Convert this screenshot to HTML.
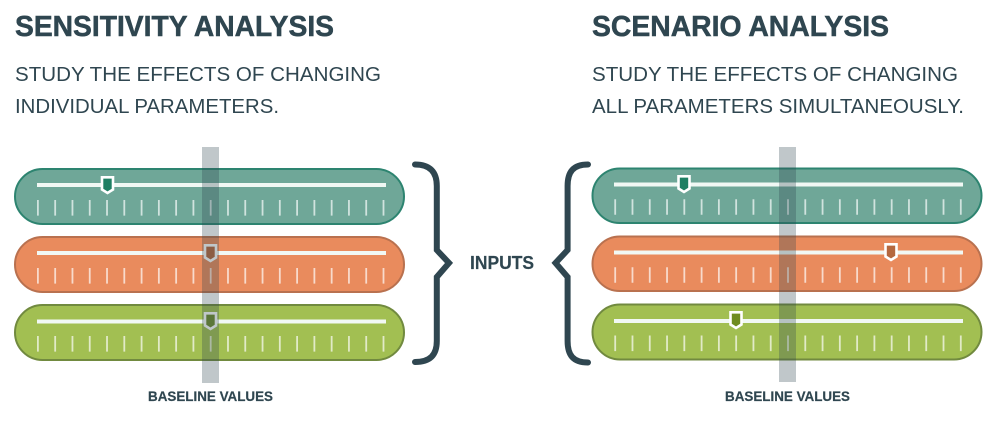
<!DOCTYPE html>
<html><head><meta charset="utf-8"><style>html,body{margin:0;padding:0;background:#fff}svg{display:block}
text{font-family:"Liberation Sans",sans-serif;fill:#2f4650}
.t{font-size:29px;font-weight:700;stroke:#2f4650;stroke-width:.5}.s{font-size:20.5px}.b{font-size:14px;font-weight:700;stroke:#2f4650;stroke-width:.2}
.tick{stroke:#fff;stroke-opacity:.68;stroke-width:15.6;stroke-dasharray:1.8 15.48;fill:none}
.sl{stroke:#f1f8f4;stroke-width:4}
.h{stroke:#fff;stroke-width:2.6;stroke-linejoin:miter}
.br{fill:none;stroke:#2f4650;stroke-width:6;stroke-linecap:round;stroke-linejoin:miter}
</style></head><body>
<svg width="1000" height="422" viewBox="0 0 1000 422" xmlns="http://www.w3.org/2000/svg">
<text class="t" x="15" y="36" textLength="319" lengthAdjust="spacingAndGlyphs">SENSITIVITY ANALYSIS</text>
<text class="s" x="15" y="81" textLength="366" lengthAdjust="spacingAndGlyphs">STUDY THE EFFECTS OF CHANGING</text>
<text class="s" x="15" y="113" textLength="264" lengthAdjust="spacingAndGlyphs">INDIVIDUAL PARAMETERS.</text>
<text class="t" x="592" y="36" textLength="297" lengthAdjust="spacingAndGlyphs">SCENARIO ANALYSIS</text>
<text class="s" x="592" y="81" textLength="366" lengthAdjust="spacingAndGlyphs">STUDY THE EFFECTS OF CHANGING</text>
<text class="s" x="592" y="113" textLength="372" lengthAdjust="spacingAndGlyphs">ALL PARAMETERS SIMULTANEOUSLY.</text>

<!-- left bars -->
<rect x="15" y="169" width="389" height="55" rx="27.5" fill="#6fa798" stroke="#2d8470" stroke-width="2"/>
<rect x="15" y="237" width="389" height="55" rx="27.5" fill="#e98b5d" stroke="#b9714f" stroke-width="2"/>
<rect x="15" y="305" width="389" height="55" rx="27.5" fill="#a2bf52" stroke="#718a3f" stroke-width="2"/>
<path class="sl" d="M37 185H386M37 253H386M37 321.5H386"/>
<path class="tick" d="M37 207.8H385M37 275.8H385M37 343.8H385"/>
<path class="h" fill="#1f7f63" d="M102 177.3H113V189.5L107.5 193L102 189.5Z"/>
<path class="h" fill="#b5683f" d="M205 245.3H216V257.5L210.5 261L205 257.5Z"/>
<path class="h" fill="#6f8c30" d="M205 313.3H216V325.5L210.5 329L205 325.5Z"/>
<rect x="202" y="147" width="17" height="236" fill="#2f4650" opacity=".3"/>

<!-- right bars -->
<rect x="592.5" y="168.5" width="389" height="54.5" rx="27.2" fill="#6fa798" stroke="#2d8470" stroke-width="2"/>
<rect x="592.5" y="236.5" width="389" height="54.5" rx="27.2" fill="#e98b5d" stroke="#b9714f" stroke-width="2"/>
<rect x="592.5" y="304.5" width="389" height="55" rx="27.5" fill="#a2bf52" stroke="#718a3f" stroke-width="2"/>
<path class="sl" d="M614 184.5H963M614 252.5H963M614 321H963"/>
<path class="tick" d="M614.3 207H962M614.3 275H962M614.3 343.3H962"/>
<path class="h" fill="#1f7f63" d="M678.5 176.3H689.5V188.5L684 192L678.5 188.5Z"/>
<path class="h" fill="#b5683f" d="M885.5 244.3H896.5V256.5L891 260L885.5 256.5Z"/>
<path class="h" fill="#6f8c20" d="M730.5 312.3H741.5V324.5L736 328L730.5 324.5Z"/>
<rect x="779" y="147" width="17" height="235" fill="#2f4650" opacity=".3"/>

<!-- braces -->
<path class="br" d="M415 164.5C430 164.5 436.8 172 436.8 186V250L449 263L436.8 277V341C436.8 355 430 362 415 362"/>
<path class="br" d="M588 164.5C573 164.5 567.6 172 567.6 186V250L555.5 263L567.6 277V341C567.6 355 573 362.5 588 362.5"/>

<text x="470" y="269" font-size="18" font-weight="700" stroke="#2f4650" stroke-width=".2" textLength="64" lengthAdjust="spacingAndGlyphs">INPUTS</text>
<text class="b" x="148" y="401" textLength="125" lengthAdjust="spacingAndGlyphs">BASELINE VALUES</text>
<text class="b" x="725" y="401" textLength="125" lengthAdjust="spacingAndGlyphs">BASELINE VALUES</text>
</svg>
</body></html>
